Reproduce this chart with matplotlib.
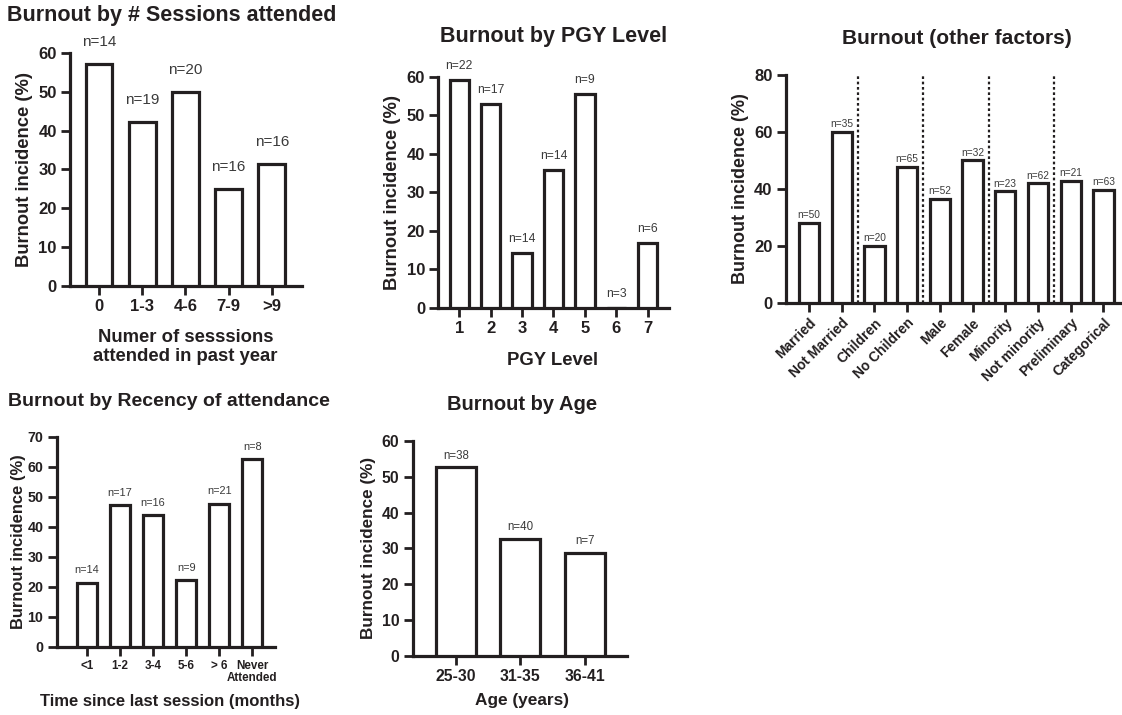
import matplotlib
matplotlib.use('Agg')
import matplotlib.pyplot as plt
import numpy as np

plt.rcParams['font.family'] = ['Liberation Sans', 'DejaVu Sans']
plt.rcParams['font.weight'] = 'bold'

INK = '#231f20'
NCOL = '#3a3a3a'

# --- data ---
sess_cats = ['0', '1-3', '4-6', '7-9', '>9']
sess_vals = [57.1, 42.1, 50.0, 25.0, 31.3]
sess_n = [14, 19, 20, 16, 16]

pgy_cats = ['1', '2', '3', '4', '5', '6', '7']
pgy_vals = [59.1, 52.9, 14.3, 35.7, 55.6, 0.0, 16.7]
pgy_n = [22, 17, 14, 14, 9, 3, 6]

oth_cats = ['Married', 'Not Married', 'Children', 'No Children', 'Male', 'Female',
            'Minority', 'Not minority', 'Preliminary', 'Categorical']
oth_vals = [28.0, 60.0, 20.0, 47.7, 36.5, 50.0, 39.1, 41.9, 42.9, 39.7]
oth_n = [50, 35, 20, 65, 52, 32, 23, 62, 21, 63]

rec_cats = ['<1', '1-2', '3-4', '5-6', '> 6', 'Never\nAttended']
rec_vals = [21.4, 47.1, 43.8, 22.2, 47.6, 62.5]
rec_n = [14, 17, 16, 9, 21, 8]

age_cats = ['25-30', '31-35', '36-41']
age_vals = [52.6, 32.5, 28.6]
age_n = [38, 40, 7]

fig = plt.figure(figsize=(11.22, 7.15), dpi=100)
fig.patch.set_facecolor('white')


def panel(rect, cats, vals, ns, ymax, ystep, xlim, xtick_fs, ytick_fs, n_fs, n_off,
          ylab_fs, xlab, xlab_fs, xlab_y, xlab_x=0.5, rot=0, ylab_pad=4):
    ax = fig.add_axes(rect)
    x = np.arange(len(cats))
    ax.bar(x, vals, width=0.62, facecolor='white', edgecolor=INK, linewidth=2.3, zorder=3)
    for xi, v, n in zip(x, vals, ns):
        ax.annotate(f'n={n}', (xi, v), xytext=(0, n_off), textcoords='offset points',
                    ha='center', va='center', fontsize=n_fs, fontweight='normal', color=NCOL)
    ax.set_xlim(*xlim)
    ax.set_ylim(0, ymax)
    ax.set_yticks(np.arange(0, ymax + 1, ystep))
    ax.set_xticks(x)
    if rot:
        ax.set_xticklabels(cats, rotation=rot, ha='right', rotation_mode='anchor',
                           fontsize=xtick_fs, fontweight='bold', color=INK)
    else:
        ax.set_xticklabels(cats, fontsize=xtick_fs, fontweight='bold', color=INK,
                           linespacing=1.0)
    for lab in ax.get_yticklabels():
        lab.set_fontsize(ytick_fs)
        lab.set_fontweight('bold')
        lab.set_color(INK)
    for s in ['top', 'right']:
        ax.spines[s].set_visible(False)
    for s in ['left', 'bottom']:
        ax.spines[s].set_linewidth(2.3)
        ax.spines[s].set_color(INK)
    ax.tick_params(axis='both', width=2.0, length=6.5, color=INK, pad=3)
    ax.set_ylabel('Burnout incidence (%)', fontsize=ylab_fs, fontweight='bold',
                  color=INK, labelpad=ylab_pad)
    if xlab:
        ax.set_xlabel(xlab, fontsize=xlab_fs, fontweight='bold', color=INK,
                      linespacing=1.15)
        ax.xaxis.set_label_coords(xlab_x, xlab_y)
    ax.patch.set_alpha(0)
    return ax


# top-left: sessions attended
panel([0.0624, 0.6004, 0.2068, 0.3255], sess_cats, sess_vals, sess_n, 60, 10,
      (-0.67, 4.7), 12, 12, 11, 16, 13.2,
      'Numer of sesssions\nattended in past year', 13.3, -0.185, 0.497)
fig.text(0.006, 0.979, 'Burnout by # Sessions attended', fontsize=15.5,
         fontweight='bold', color=INK, ha='left', va='center')

# top-middle: PGY level
panel([0.3906, 0.5697, 0.2057, 0.3230], pgy_cats, pgy_vals, pgy_n, 60, 10,
      (-0.67, 6.68), 12, 12, 8.7, 10, 13.2,
      'PGY Level', 13.3, -0.19, 0.497)
fig.text(0.4932, 0.9487, 'Burnout by PGY Level', fontsize=15.5,
         fontweight='bold', color=INK, ha='center', va='center')

# top-right: other factors
ax3 = panel([0.7003, 0.5766, 0.2977, 0.3185], oth_cats, oth_vals, oth_n, 80, 20,
            (-0.71, 9.5), 10, 12, 7.3, 5.5, 13, None, 0, 0, rot=45)
for xd in np.arange(1.5, 9, 2):
    ax3.plot([xd, xd], [0, 80], color=INK, linestyle=(0, (1.2, 1.2)), linewidth=1.6,
             zorder=2)
fig.text(0.8527, 0.9455, 'Burnout (other factors)', fontsize=15.1,
         fontweight='bold', color=INK, ha='center', va='center')

# bottom-left: recency
panel([0.0505, 0.0955, 0.1946, 0.2937], rec_cats, rec_vals, rec_n, 70, 10,
      (-0.92, 5.69), 8.4, 10.3, 7.9, 9, 11.9,
      'Time since last session (months)', 12, -0.225, 0.519, ylab_pad=1)
fig.text(0.0074, 0.4382, 'Burnout by Recency of attendance', fontsize=14,
         fontweight='bold', color=INK, ha='left', va='center')

# bottom-middle: age
panel([0.3678, 0.0829, 0.1913, 0.3003], age_cats, age_vals, age_n, 60, 10,
      (-0.67, 2.66), 11.3, 11.3, 8.3, 8.6, 12.3,
      'Age (years)', 12.4, -0.175, 0.508)
fig.text(0.4650, 0.4336, 'Burnout by Age', fontsize=14.5,
         fontweight='bold', color=INK, ha='center', va='center')

fig.savefig('out.png', dpi=100, facecolor='white')
